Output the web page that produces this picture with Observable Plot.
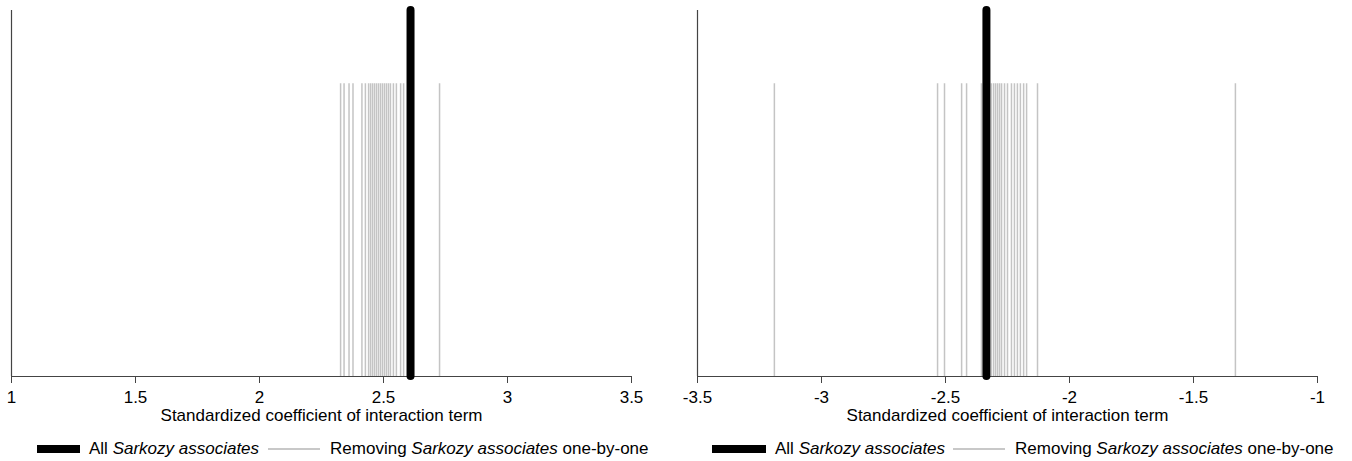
<!DOCTYPE html>
<html><head><meta charset="utf-8">
<script src="https://cdn.jsdelivr.net/npm/d3@7"></script>
<script src="https://cdn.jsdelivr.net/npm/@observablehq/plot@0.6"></script>
<style>
body{margin:0;background:#fff;font-family:"Liberation Sans",Arial,sans-serif;}
#wrap{display:flex;width:1352px;}
.panel{width:676px;}
.legend{display:flex;align-items:center;font-size:17px;height:30px;padding-top:10px;color:#000;white-space:nowrap;}
.sw{display:inline-block;}
.sw.black{height:8px;background:#000;margin-right:9px;}
.sw.gray{width:52px;height:2px;background:#c8c8c8;margin:0 10px 0 8px;}
</style></head>
<body><div id="wrap"></div>
<script>
const axisTitle = "Standardized coefficient of interaction term";
const legendAll = "Sarkozy associates";
const leftTicks = [1, 1.5, 2, 2.5, 3, 3.5];
const leftAll = [2.609];
const leftDrops = [2.327, 2.341, 2.361, 2.377, 2.413, 2.427, 2.440, 2.448, 2.456, 2.464, 2.472, 2.480, 2.488, 2.496, 2.504, 2.512, 2.520, 2.528, 2.540, 2.552, 2.569, 2.581, 2.600, 2.726];
const rightTicks = [-3.5, -3, -2.5, -2, -1.5, -1];
const rightAll = [-2.335];
const rightDrops = [-3.190, -2.532, -2.504, -2.435, -2.415, -2.355, -2.343, -2.315, -2.306, -2.298, -2.290, -2.282, -2.274, -2.262, -2.250, -2.234, -2.222, -2.210, -2.198, -2.185, -2.173, -2.129, -1.331];

function panel(ticks, all, drops, mL, mR, legendPad, swW, gap2) {
  const domain = [ticks[0], ticks[ticks.length - 1]];
  const div = document.createElement("div");
  div.className = "panel";
  const chart = Plot.plot({
    width: 676, height: 424,
    marginLeft: mL, marginRight: mR, marginTop: 10, marginBottom: 48,
    x: {domain, ticks, tickFormat: d => String(d)},
    y: {domain: [0, 1], axis: null},
    style: {fontFamily: "Liberation Sans, Arial, sans-serif", fontSize: "17px", color: "#000", background: "#fff"},
    marks: [
      Plot.ruleX(drops, {x: d => d, y1: 0, y2: 0.8, stroke: "#c4c4c4", strokeWidth: 1.5}),
      Plot.ruleY([0], {stroke: "#444", strokeWidth: 1.2}),
      Plot.ruleX([domain[0]], {y1: 0, y2: 1, stroke: "#444", strokeWidth: 1.2}),
      Plot.ruleX(all, {x: d => d, y1: 0, y2: 1, stroke: "#000", strokeWidth: 8, strokeLinecap: "round"}),
      Plot.axisX({ticks, tickFormat: d => String(d), tickSize: 7, tickPadding: 7, stroke: "#444", fontSize: 17,
        label: axisTitle, labelAnchor: "center", labelArrow: "none", labelOffset: 44})
    ]
  });
  div.appendChild(chart);
  const lg = document.createElement("div");
  lg.className = "legend";
  lg.style.paddingLeft = legendPad + "px";
  lg.innerHTML = `<span class="sw black" style="width:${swW}px"></span><span>All <i>${legendAll}</i></span><span class="sw gray" style="margin-left:${gap2}px"></span><span>Removing <i>${legendAll}</i> one-by-one</span>`;
  div.appendChild(lg);
  return div;
}
const wrap = document.getElementById("wrap");
wrap.appendChild(panel(leftTicks, leftAll, leftDrops, 11, 45, 37, 43, 9));
wrap.appendChild(panel(rightTicks, rightAll, rightDrops, 21, 35, 36, 54, 8));
</script></body></html>
